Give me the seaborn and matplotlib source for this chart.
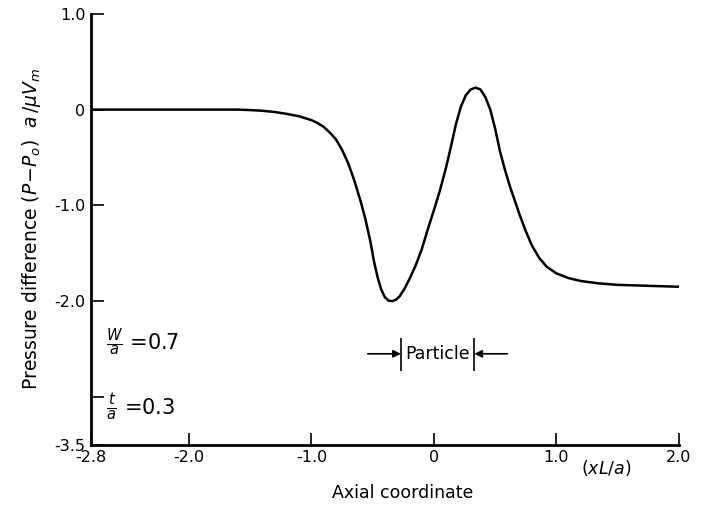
import matplotlib
matplotlib.use("Agg")
import matplotlib.pyplot as plt
import seaborn as sns
import pandas as pd

# Axial coordinate (xL/a) and dimensionless pressure difference
axial = [-2.8, -2.4, -2.0, -1.8, -1.6, -1.5, -1.4, -1.3, -1.2, -1.1,
         -1.0, -0.95, -0.9, -0.85, -0.8, -0.75, -0.7, -0.65, -0.6, -0.56,
         -0.52, -0.49, -0.46, -0.43, -0.40, -0.37, -0.34, -0.31, -0.28, -0.24,
         -0.20, -0.15, -0.10, -0.05, 0.0, 0.05, 0.10, 0.14, 0.18, 0.22,
         0.26, 0.30, 0.34, 0.38, 0.42, 0.46, 0.50, 0.54, 0.58, 0.62,
         0.66, 0.70, 0.75, 0.80, 0.86, 0.92, 1.0, 1.1, 1.2, 1.35,
         1.5, 1.75, 2.0]
pressure = [0.0, 0.0, 0.0, 0.0, 0.0, -0.005, -0.012, -0.025, -0.045, -0.07,
            -0.11, -0.14, -0.18, -0.24, -0.31, -0.42, -0.56, -0.74, -0.95, -1.14,
            -1.37, -1.58, -1.75, -1.88, -1.96, -1.995, -2.0, -1.985, -1.95, -1.87,
            -1.77, -1.63, -1.46, -1.25, -1.05, -0.84, -0.60, -0.38, -0.15, 0.03,
            0.15, 0.21, 0.23, 0.21, 0.13, 0.0, -0.2, -0.44, -0.63, -0.80,
            -0.95, -1.10, -1.27, -1.42, -1.55, -1.64, -1.71, -1.76, -1.79, -1.815,
            -1.83, -1.84, -1.85]

x_ticks = [-2.8, -2.0, -1.0, 0.0, 1.0, 2.0]
x_tick_labels = ["-2.8", "-2.0", "-1.0", "0", "1.0", "2.0"]
y_ticks = [1.0, 0.0, -1.0, -2.0, -3.0, -3.5]
y_tick_labels = ["1.0", "0", "-1.0", "-2.0", "", "-3.5"]

particle_left, particle_right = -0.27, 0.33

df = pd.DataFrame({"x": axial, "p": pressure})

sns.set_style("ticks")
plt.rcParams["font.family"] = ["DejaVu Sans"]
plt.rcParams["mathtext.fontset"] = "dejavusans"
plt.rcParams["text.color"] = "black"
plt.rcParams["axes.labelcolor"] = "black"
plt.rcParams["xtick.color"] = "black"
plt.rcParams["ytick.color"] = "black"

fig = plt.figure(figsize=(7.05, 5.13), dpi=100)
ax = fig.add_axes([0.129, 0.133, 0.834, 0.84])

sns.lineplot(data=df, x="x", y="p", ax=ax, color="black", linewidth=1.8,
             sort=False)

ax.set_xlim(-2.8, 2.0)
ax.set_ylim(-3.5, 1.0)
ax.set_xticks(x_ticks)
ax.set_xticklabels(x_tick_labels)
ax.set_yticks(y_ticks)
ax.set_yticklabels(y_tick_labels)
ax.tick_params(direction="in", length=9, width=1.2, labelsize=11.5,
               colors="black", pad=4)

for side in ("top", "right"):
    ax.spines[side].set_visible(False)
for side in ("left", "bottom"):
    ax.spines[side].set_linewidth(2)
    ax.spines[side].set_color("black")

ax.set_xlabel("Axial coordinate", fontsize=12.5)
ax.xaxis.set_label_coords(0.53, -0.09)
ax.set_ylabel(r"Pressure difference $(P\!-\!P_o)$  $a\,/\mu V_m$",
              fontsize=13.5, labelpad=8)

ax.text(0.876, -0.055, r"$(xL/a)$", transform=ax.transAxes, fontsize=12.5,
        ha="center", va="center")

# Geometry parameters
ax.text(-2.68, -2.43, r"$\frac{W}{a}$ =0.7", fontsize=15, ha="left",
        va="center")
ax.text(-2.68, -3.11, r"$\frac{t}{a}$ =0.3", fontsize=15, ha="left",
        va="center")

# Particle extent marker
y_mark = -2.55
ax.vlines([particle_left, particle_right], y_mark - 0.18, y_mark + 0.16,
          color="black", linewidth=1.2)
ax.text((particle_left + particle_right) / 2, y_mark, "Particle",
        fontsize=12.5, ha="center", va="center")
ax.annotate("", xy=(particle_left, y_mark), xytext=(particle_left - 0.27, y_mark),
            arrowprops=dict(arrowstyle="-|>", color="black", lw=1.2,
                            mutation_scale=11, shrinkA=0, shrinkB=0))
ax.annotate("", xy=(particle_right, y_mark), xytext=(particle_right + 0.27, y_mark),
            arrowprops=dict(arrowstyle="-|>", color="black", lw=1.2,
                            mutation_scale=11, shrinkA=0, shrinkB=0))

fig.savefig("out.png", dpi=100)
